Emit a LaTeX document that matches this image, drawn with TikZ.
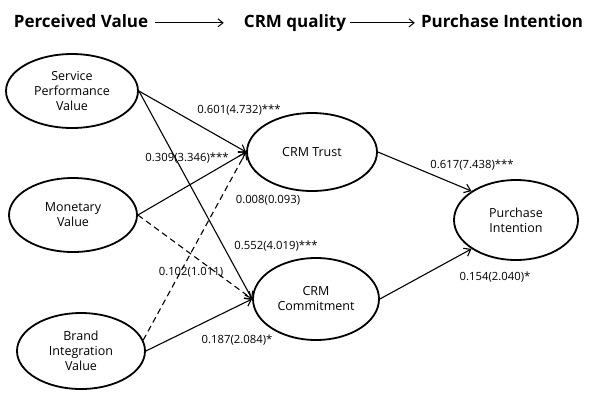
\documentclass[tikz,border=0pt]{standalone}
\usepackage{fontspec}
\setmainfont{Open Sans}
\usetikzlibrary{arrows.meta,shapes.geometric}
\begin{document}
\begin{tikzpicture}[x=1pt,y=-1pt,
  latent/.style={draw, ellipse, line width=1.8pt, inner sep=0pt, align=center,
    font=\fontsize{12.5}{15}\selectfont},
  pathline/.style={line width=1.1pt, -{Straight Barb[length=6pt,width=9pt]}},
  dpathline/.style={pathline, dash pattern=on 6pt off 4pt},
  coef/.style={font=\fontsize{11.3}{13}\selectfont, inner sep=0pt},
  ttl/.style={font=\bfseries\fontsize{17}{20}\selectfont, inner sep=0pt, anchor=base},
  ttlarrow/.style={line width=1pt, -{Straight Barb[length=5pt,width=8pt]}}]
\useasboundingbox (0,0) rectangle (596,392);

% title
\node[ttl] (t1) at (81,27) {Perceived Value};
\node[ttl] (t2) at (295,27) {CRM quality};
\node[ttl] (t3) at (502,27) {Purchase Intention};
\draw[ttlarrow, shorten <=7pt, shorten >=20pt] ([yshift=1.5pt]t1.mid east) -- ([yshift=1.5pt]t2.mid west);
\draw[ttlarrow, shorten <=4pt, shorten >=6pt] ([yshift=1.5pt]t2.mid east) -- ([yshift=1.5pt]t3.mid west);

% constructs
\node[latent, minimum width=132pt, minimum height=74pt] (spv) at (72,91) {Service\\Performance\\Value};
\node[latent, minimum width=128pt, minimum height=74pt] (mv) at (73,215) {Monetary\\Value};
\node[latent, minimum width=128pt, minimum height=76pt] (biv) at (81,351) {Brand\\Integration\\Value};
\node[latent, minimum width=130pt, minimum height=78pt] (trust) at (312,152) {CRM Trust};
\node[latent, minimum width=126pt, minimum height=82pt] (com) at (316,299) {CRM\\Commitment};
\node[latent, minimum width=124pt, minimum height=80pt] (pi) at (516,220) {Purchase\\Intention};

% paths
\draw[pathline] (spv.east) -- (trust.west);
\draw[pathline] (spv.east) -- (com.west);
\draw[pathline] (mv.east) -- (trust.west);
\draw[dpathline] (mv.east) -- (com.west);
\draw[dpathline] (biv.10) -- (trust.west);
\draw[pathline] (biv.east) -- (com.west);
\draw[pathline] (trust.east) -- (pi.147);
\draw[pathline] (com.east) -- (pi.213);

% coefficients
\node[coef] (c1) at (239,110) {0.601(4.732)***};
\node[coef] (c2) at (187,158) {0.309(3.346)***};
\node[coef] (c3) at (268,200) {0.008(0.093)};
\node[coef] (c4) at (276,246) {0.552(4.019)***};
\node[coef] (c5) at (191,272) {0.102(1.011)};
\node[coef] (c6) at (237,340) {0.187(2.084)*};
\node[coef] (c7) at (472,165) {0.617(7.438)***};
\node[coef] (c8) at (495,277) {0.154(2.040)*};
\end{tikzpicture}
\end{document}
